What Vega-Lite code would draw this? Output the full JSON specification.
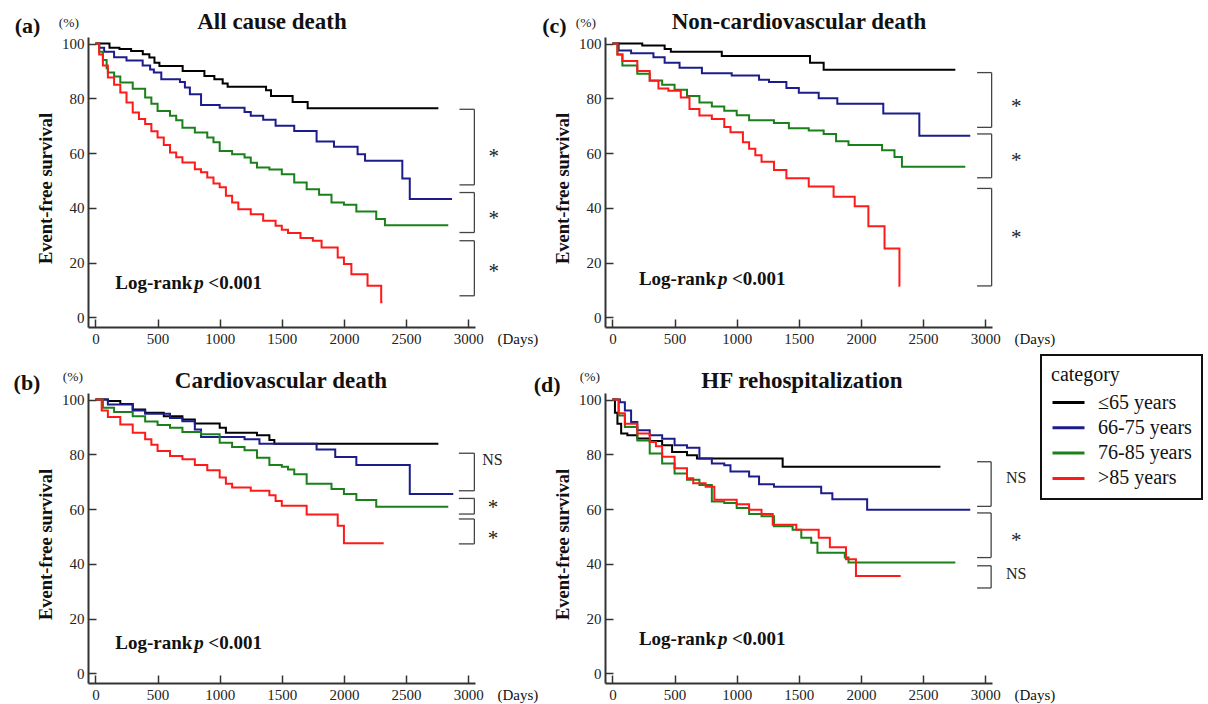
{
 "$schema": "https://vega.github.io/schema/vega-lite/v6.json",
 "background": "white",
 "padding": {"left": 13, "top": 10, "right": 4, "bottom": 4},
 "columns": 2,
 "spacing": {"row": 66, "column": 130},
 "bounds": "flush",
 "datasets": {
  "km": [
   {"panel":"a","group":"≤65 years","day":0,"survival":100},{"panel":"a","group":"≤65 years","day":113,"survival":98.5},{"panel":"a","group":"≤65 years","day":193,"survival":98},{"panel":"a","group":"≤65 years","day":287,"survival":97.3},{"panel":"a","group":"≤65 years","day":381,"survival":96.1},{"panel":"a","group":"≤65 years","day":434,"survival":94.9},{"panel":"a","group":"≤65 years","day":475,"survival":93},{"panel":"a","group":"≤65 years","day":515,"survival":91.8},{"panel":"a","group":"≤65 years","day":702,"survival":90},{"panel":"a","group":"≤65 years","day":877,"survival":88.2},{"panel":"a","group":"≤65 years","day":957,"survival":87},{"panel":"a","group":"≤65 years","day":1024,"survival":85.4},{"panel":"a","group":"≤65 years","day":1064,"survival":84.2},{"panel":"a","group":"≤65 years","day":1373,"survival":83},{"panel":"a","group":"≤65 years","day":1413,"survival":80.9},{"panel":"a","group":"≤65 years","day":1587,"survival":78.7},{"panel":"a","group":"≤65 years","day":1708,"survival":76.4},{"panel":"a","group":"≤65 years","day":2760,"survival":76.4},
   {"panel":"a","group":"66-75 years","day":0,"survival":100},{"panel":"a","group":"66-75 years","day":30,"survival":98.5},{"panel":"a","group":"66-75 years","day":70,"survival":97},{"panel":"a","group":"66-75 years","day":150,"survival":95},{"panel":"a","group":"66-75 years","day":250,"survival":93.8},{"panel":"a","group":"66-75 years","day":380,"survival":92},{"panel":"a","group":"66-75 years","day":440,"survival":90.5},{"panel":"a","group":"66-75 years","day":470,"survival":89.4},{"panel":"a","group":"66-75 years","day":530,"survival":87},{"panel":"a","group":"66-75 years","day":680,"survival":86},{"panel":"a","group":"66-75 years","day":720,"survival":84},{"panel":"a","group":"66-75 years","day":760,"survival":81.5},{"panel":"a","group":"66-75 years","day":850,"survival":77.6},{"panel":"a","group":"66-75 years","day":1000,"survival":76.6},{"panel":"a","group":"66-75 years","day":1200,"survival":75},{"panel":"a","group":"66-75 years","day":1250,"survival":73.6},{"panel":"a","group":"66-75 years","day":1350,"survival":72.2},{"panel":"a","group":"66-75 years","day":1450,"survival":70},{"panel":"a","group":"66-75 years","day":1600,"survival":68.1},{"panel":"a","group":"66-75 years","day":1780,"survival":64.2},{"panel":"a","group":"66-75 years","day":1920,"survival":62.3},{"panel":"a","group":"66-75 years","day":2110,"survival":59.6},{"panel":"a","group":"66-75 years","day":2170,"survival":57.2},{"panel":"a","group":"66-75 years","day":2470,"survival":50.7},{"panel":"a","group":"66-75 years","day":2530,"survival":43.2},{"panel":"a","group":"66-75 years","day":2870,"survival":43.2},
   {"panel":"a","group":"76-85 years","day":0,"survival":100},{"panel":"a","group":"76-85 years","day":30,"survival":97},{"panel":"a","group":"76-85 years","day":60,"survival":94},{"panel":"a","group":"76-85 years","day":90,"survival":91},{"panel":"a","group":"76-85 years","day":100,"survival":89.4},{"panel":"a","group":"76-85 years","day":150,"survival":88},{"panel":"a","group":"76-85 years","day":200,"survival":85.8},{"panel":"a","group":"76-85 years","day":300,"survival":83.5},{"panel":"a","group":"76-85 years","day":400,"survival":80.3},{"panel":"a","group":"76-85 years","day":450,"survival":78},{"panel":"a","group":"76-85 years","day":500,"survival":75.4},{"panel":"a","group":"76-85 years","day":600,"survival":73.6},{"panel":"a","group":"76-85 years","day":650,"survival":72},{"panel":"a","group":"76-85 years","day":700,"survival":69.3},{"panel":"a","group":"76-85 years","day":800,"survival":67.5},{"panel":"a","group":"76-85 years","day":900,"survival":65.7},{"panel":"a","group":"76-85 years","day":950,"survival":64},{"panel":"a","group":"76-85 years","day":1000,"survival":60.8},{"panel":"a","group":"76-85 years","day":1100,"survival":59.6},{"panel":"a","group":"76-85 years","day":1200,"survival":58.4},{"panel":"a","group":"76-85 years","day":1250,"survival":56.5},{"panel":"a","group":"76-85 years","day":1300,"survival":54.7},{"panel":"a","group":"76-85 years","day":1400,"survival":54},{"panel":"a","group":"76-85 years","day":1500,"survival":52.3},{"panel":"a","group":"76-85 years","day":1600,"survival":49.3},{"panel":"a","group":"76-85 years","day":1700,"survival":46.8},{"panel":"a","group":"76-85 years","day":1800,"survival":44.8},{"panel":"a","group":"76-85 years","day":1900,"survival":42},{"panel":"a","group":"76-85 years","day":2000,"survival":41.1},{"panel":"a","group":"76-85 years","day":2100,"survival":38.7},{"panel":"a","group":"76-85 years","day":2260,"survival":35.9},{"panel":"a","group":"76-85 years","day":2330,"survival":33.7},{"panel":"a","group":"76-85 years","day":2840,"survival":33.7},
   {"panel":"a","group":">85 years","day":0,"survival":100},{"panel":"a","group":">85 years","day":30,"survival":96},{"panel":"a","group":">85 years","day":60,"survival":92},{"panel":"a","group":">85 years","day":100,"survival":87.6},{"panel":"a","group":">85 years","day":150,"survival":85},{"panel":"a","group":">85 years","day":200,"survival":82.1},{"panel":"a","group":">85 years","day":250,"survival":78.5},{"panel":"a","group":">85 years","day":300,"survival":74.8},{"panel":"a","group":">85 years","day":350,"survival":72.5},{"panel":"a","group":">85 years","day":400,"survival":70.6},{"panel":"a","group":">85 years","day":450,"survival":68},{"panel":"a","group":">85 years","day":500,"survival":65.7},{"panel":"a","group":">85 years","day":550,"survival":63},{"panel":"a","group":">85 years","day":600,"survival":60.2},{"panel":"a","group":">85 years","day":650,"survival":58.5},{"panel":"a","group":">85 years","day":700,"survival":56.6},{"panel":"a","group":">85 years","day":800,"survival":54.1},{"panel":"a","group":">85 years","day":850,"survival":53},{"panel":"a","group":">85 years","day":900,"survival":51.1},{"panel":"a","group":">85 years","day":950,"survival":48.9},{"panel":"a","group":">85 years","day":1000,"survival":47.5},{"panel":"a","group":">85 years","day":1050,"survival":44.4},{"panel":"a","group":">85 years","day":1100,"survival":42},{"panel":"a","group":">85 years","day":1150,"survival":39.5},{"panel":"a","group":">85 years","day":1250,"survival":37.7},{"panel":"a","group":">85 years","day":1350,"survival":35.3},{"panel":"a","group":">85 years","day":1450,"survival":33.5},{"panel":"a","group":">85 years","day":1500,"survival":32},{"panel":"a","group":">85 years","day":1550,"survival":30.8},{"panel":"a","group":">85 years","day":1650,"survival":29},{"panel":"a","group":">85 years","day":1750,"survival":28},{"panel":"a","group":">85 years","day":1820,"survival":25.5},{"panel":"a","group":">85 years","day":1950,"survival":21.9},{"panel":"a","group":">85 years","day":2000,"survival":19.5},{"panel":"a","group":">85 years","day":2060,"survival":15.8},{"panel":"a","group":">85 years","day":2190,"survival":11.6},{"panel":"a","group":">85 years","day":2300,"survival":5.5},{"panel":"a","group":">85 years","day":2310,"survival":5.5},

   {"panel":"b","group":"≤65 years","day":0,"survival":100},{"panel":"b","group":"≤65 years","day":100,"survival":99.5},{"panel":"b","group":"≤65 years","day":200,"survival":98.4},{"panel":"b","group":"≤65 years","day":300,"survival":96.4},{"panel":"b","group":"≤65 years","day":400,"survival":95.2},{"panel":"b","group":"≤65 years","day":550,"survival":93.9},{"panel":"b","group":"≤65 years","day":700,"survival":92.7},{"panel":"b","group":"≤65 years","day":800,"survival":91.3},{"panel":"b","group":"≤65 years","day":1000,"survival":89.7},{"panel":"b","group":"≤65 years","day":1050,"survival":87.9},{"panel":"b","group":"≤65 years","day":1300,"survival":87},{"panel":"b","group":"≤65 years","day":1400,"survival":85.2},{"panel":"b","group":"≤65 years","day":1440,"survival":83.9},{"panel":"b","group":"≤65 years","day":2760,"survival":83.9},
   {"panel":"b","group":"66-75 years","day":0,"survival":100},{"panel":"b","group":"66-75 years","day":100,"survival":98.2},{"panel":"b","group":"66-75 years","day":300,"survival":96},{"panel":"b","group":"66-75 years","day":400,"survival":94.8},{"panel":"b","group":"66-75 years","day":600,"survival":93.3},{"panel":"b","group":"66-75 years","day":700,"survival":92.1},{"panel":"b","group":"66-75 years","day":800,"survival":89.1},{"panel":"b","group":"66-75 years","day":850,"survival":86.3},{"panel":"b","group":"66-75 years","day":1200,"survival":85.5},{"panel":"b","group":"66-75 years","day":1320,"survival":83.9},{"panel":"b","group":"66-75 years","day":1780,"survival":81.8},{"panel":"b","group":"66-75 years","day":1930,"survival":79},{"panel":"b","group":"66-75 years","day":2100,"survival":76.1},{"panel":"b","group":"66-75 years","day":2530,"survival":65.5},{"panel":"b","group":"66-75 years","day":2880,"survival":65.5},
   {"panel":"b","group":"76-85 years","day":0,"survival":100},{"panel":"b","group":"76-85 years","day":60,"survival":97},{"panel":"b","group":"76-85 years","day":150,"survival":95.5},{"panel":"b","group":"76-85 years","day":300,"survival":93.9},{"panel":"b","group":"76-85 years","day":400,"survival":92},{"panel":"b","group":"76-85 years","day":500,"survival":90.7},{"panel":"b","group":"76-85 years","day":600,"survival":89.7},{"panel":"b","group":"76-85 years","day":700,"survival":88.2},{"panel":"b","group":"76-85 years","day":850,"survival":87.3},{"panel":"b","group":"76-85 years","day":1000,"survival":84.2},{"panel":"b","group":"76-85 years","day":1100,"survival":82.7},{"panel":"b","group":"76-85 years","day":1200,"survival":81.5},{"panel":"b","group":"76-85 years","day":1300,"survival":78.8},{"panel":"b","group":"76-85 years","day":1400,"survival":76.1},{"panel":"b","group":"76-85 years","day":1500,"survival":75.5},{"panel":"b","group":"76-85 years","day":1550,"survival":74.5},{"panel":"b","group":"76-85 years","day":1600,"survival":72.7},{"panel":"b","group":"76-85 years","day":1700,"survival":69.3},{"panel":"b","group":"76-85 years","day":1900,"survival":67.3},{"panel":"b","group":"76-85 years","day":2000,"survival":65.5},{"panel":"b","group":"76-85 years","day":2100,"survival":63.3},{"panel":"b","group":"76-85 years","day":2260,"survival":60.9},{"panel":"b","group":"76-85 years","day":2840,"survival":60.9},
   {"panel":"b","group":">85 years","day":0,"survival":100},{"panel":"b","group":">85 years","day":50,"survival":96},{"panel":"b","group":">85 years","day":100,"survival":93.6},{"panel":"b","group":">85 years","day":200,"survival":90.9},{"panel":"b","group":">85 years","day":300,"survival":87.9},{"panel":"b","group":">85 years","day":400,"survival":85.5},{"panel":"b","group":">85 years","day":450,"survival":83.5},{"panel":"b","group":">85 years","day":500,"survival":81.2},{"panel":"b","group":">85 years","day":600,"survival":79.4},{"panel":"b","group":">85 years","day":700,"survival":78.2},{"panel":"b","group":">85 years","day":800,"survival":76.1},{"panel":"b","group":">85 years","day":900,"survival":74.2},{"panel":"b","group":">85 years","day":1000,"survival":71.5},{"panel":"b","group":">85 years","day":1050,"survival":69.3},{"panel":"b","group":">85 years","day":1100,"survival":67.9},{"panel":"b","group":">85 years","day":1250,"survival":66.7},{"panel":"b","group":">85 years","day":1400,"survival":65.1},{"panel":"b","group":">85 years","day":1450,"survival":63},{"panel":"b","group":">85 years","day":1500,"survival":61.2},{"panel":"b","group":">85 years","day":1700,"survival":58},{"panel":"b","group":">85 years","day":1950,"survival":53.9},{"panel":"b","group":">85 years","day":2000,"survival":47.5},{"panel":"b","group":">85 years","day":2320,"survival":47.5},

   {"panel":"c","group":"≤65 years","day":0,"survival":100},{"panel":"c","group":"≤65 years","day":240,"survival":99.3},{"panel":"c","group":"≤65 years","day":420,"survival":98},{"panel":"c","group":"≤65 years","day":470,"survival":97},{"panel":"c","group":"≤65 years","day":880,"survival":95.5},{"panel":"c","group":"≤65 years","day":1590,"survival":93},{"panel":"c","group":"≤65 years","day":1700,"survival":90.4},{"panel":"c","group":"≤65 years","day":2760,"survival":90.4},
   {"panel":"c","group":"66-75 years","day":0,"survival":100},{"panel":"c","group":"66-75 years","day":50,"survival":97.5},{"panel":"c","group":"66-75 years","day":150,"survival":96.5},{"panel":"c","group":"66-75 years","day":330,"survival":95},{"panel":"c","group":"66-75 years","day":420,"survival":93},{"panel":"c","group":"66-75 years","day":540,"survival":91.2},{"panel":"c","group":"66-75 years","day":720,"survival":89.2},{"panel":"c","group":"66-75 years","day":960,"survival":88.3},{"panel":"c","group":"66-75 years","day":1180,"survival":86.8},{"panel":"c","group":"66-75 years","day":1260,"survival":86},{"panel":"c","group":"66-75 years","day":1400,"survival":83.8},{"panel":"c","group":"66-75 years","day":1500,"survival":82},{"panel":"c","group":"66-75 years","day":1660,"survival":80},{"panel":"c","group":"66-75 years","day":1810,"survival":78},{"panel":"c","group":"66-75 years","day":2180,"survival":74.5},{"panel":"c","group":"66-75 years","day":2470,"survival":66.3},{"panel":"c","group":"66-75 years","day":2880,"survival":66.3},
   {"panel":"c","group":"76-85 years","day":0,"survival":100},{"panel":"c","group":"76-85 years","day":40,"survival":96},{"panel":"c","group":"76-85 years","day":80,"survival":92},{"panel":"c","group":"76-85 years","day":200,"survival":89},{"panel":"c","group":"76-85 years","day":300,"survival":86.5},{"panel":"c","group":"76-85 years","day":400,"survival":85},{"panel":"c","group":"76-85 years","day":500,"survival":83.1},{"panel":"c","group":"76-85 years","day":600,"survival":80.9},{"panel":"c","group":"76-85 years","day":700,"survival":78.5},{"panel":"c","group":"76-85 years","day":800,"survival":77},{"panel":"c","group":"76-85 years","day":900,"survival":75.5},{"panel":"c","group":"76-85 years","day":1000,"survival":73.8},{"panel":"c","group":"76-85 years","day":1100,"survival":72},{"panel":"c","group":"76-85 years","day":1300,"survival":71},{"panel":"c","group":"76-85 years","day":1420,"survival":69.1},{"panel":"c","group":"76-85 years","day":1580,"survival":68.3},{"panel":"c","group":"76-85 years","day":1700,"survival":67},{"panel":"c","group":"76-85 years","day":1800,"survival":64.3},{"panel":"c","group":"76-85 years","day":1900,"survival":63},{"panel":"c","group":"76-85 years","day":2170,"survival":61},{"panel":"c","group":"76-85 years","day":2270,"survival":58.6},{"panel":"c","group":"76-85 years","day":2330,"survival":55},{"panel":"c","group":"76-85 years","day":2840,"survival":55},
   {"panel":"c","group":">85 years","day":0,"survival":100},{"panel":"c","group":">85 years","day":40,"survival":96},{"panel":"c","group":">85 years","day":80,"survival":93.6},{"panel":"c","group":">85 years","day":200,"survival":90},{"panel":"c","group":">85 years","day":300,"survival":86.4},{"panel":"c","group":">85 years","day":370,"survival":83.6},{"panel":"c","group":">85 years","day":450,"survival":82.8},{"panel":"c","group":">85 years","day":550,"survival":80.3},{"panel":"c","group":">85 years","day":620,"survival":76.1},{"panel":"c","group":">85 years","day":700,"survival":73.7},{"panel":"c","group":">85 years","day":800,"survival":72.5},{"panel":"c","group":">85 years","day":900,"survival":69.5},{"panel":"c","group":">85 years","day":950,"survival":67.6},{"panel":"c","group":">85 years","day":1050,"survival":64},{"panel":"c","group":">85 years","day":1100,"survival":61.6},{"panel":"c","group":">85 years","day":1150,"survival":59.2},{"panel":"c","group":">85 years","day":1200,"survival":56.8},{"panel":"c","group":">85 years","day":1300,"survival":53.8},{"panel":"c","group":">85 years","day":1400,"survival":50.8},{"panel":"c","group":">85 years","day":1580,"survival":47.8},{"panel":"c","group":">85 years","day":1780,"survival":44.1},{"panel":"c","group":">85 years","day":1950,"survival":40.6},{"panel":"c","group":">85 years","day":2060,"survival":33.3},{"panel":"c","group":">85 years","day":2190,"survival":25.2},{"panel":"c","group":">85 years","day":2310,"survival":11.5},{"panel":"c","group":">85 years","day":2312,"survival":11.5},

   {"panel":"d","group":"≤65 years","day":0,"survival":100},{"panel":"d","group":"≤65 years","day":20,"survival":95.2},{"panel":"d","group":"≤65 years","day":40,"survival":91.2},{"panel":"d","group":"≤65 years","day":70,"survival":87.6},{"panel":"d","group":"≤65 years","day":120,"survival":87},{"panel":"d","group":"≤65 years","day":200,"survival":85.8},{"panel":"d","group":"≤65 years","day":300,"survival":84.9},{"panel":"d","group":"≤65 years","day":400,"survival":83.3},{"panel":"d","group":"≤65 years","day":480,"survival":80.9},{"panel":"d","group":"≤65 years","day":600,"survival":79.7},{"panel":"d","group":"≤65 years","day":680,"survival":78.5},{"panel":"d","group":"≤65 years","day":1370,"survival":75.5},{"panel":"d","group":"≤65 years","day":2640,"survival":75.5},
   {"panel":"d","group":"66-75 years","day":0,"survival":100},{"panel":"d","group":"66-75 years","day":60,"survival":99},{"panel":"d","group":"66-75 years","day":100,"survival":96},{"panel":"d","group":"66-75 years","day":150,"survival":91.8},{"panel":"d","group":"66-75 years","day":200,"survival":88.8},{"panel":"d","group":"66-75 years","day":300,"survival":87},{"panel":"d","group":"66-75 years","day":400,"survival":85.7},{"panel":"d","group":"66-75 years","day":500,"survival":83.3},{"panel":"d","group":"66-75 years","day":600,"survival":82.4},{"panel":"d","group":"66-75 years","day":700,"survival":78.5},{"panel":"d","group":"66-75 years","day":800,"survival":76.7},{"panel":"d","group":"66-75 years","day":900,"survival":76},{"panel":"d","group":"66-75 years","day":950,"survival":73.7},{"panel":"d","group":"66-75 years","day":1100,"survival":71.9},{"panel":"d","group":"66-75 years","day":1180,"survival":69.1},{"panel":"d","group":"66-75 years","day":1300,"survival":68.2},{"panel":"d","group":"66-75 years","day":1680,"survival":65.8},{"panel":"d","group":"66-75 years","day":1770,"survival":63.6},{"panel":"d","group":"66-75 years","day":2050,"survival":59.8},{"panel":"d","group":"66-75 years","day":2880,"survival":59.8},
   {"panel":"d","group":"76-85 years","day":0,"survival":100},{"panel":"d","group":"76-85 years","day":50,"survival":94.2},{"panel":"d","group":"76-85 years","day":100,"survival":90},{"panel":"d","group":"76-85 years","day":200,"survival":85.1},{"panel":"d","group":"76-85 years","day":300,"survival":80.3},{"panel":"d","group":"76-85 years","day":400,"survival":76.7},{"panel":"d","group":"76-85 years","day":500,"survival":73},{"panel":"d","group":"76-85 years","day":600,"survival":70.7},{"panel":"d","group":"76-85 years","day":700,"survival":68.8},{"panel":"d","group":"76-85 years","day":800,"survival":62.8},{"panel":"d","group":"76-85 years","day":900,"survival":62.2},{"panel":"d","group":"76-85 years","day":1000,"survival":60.4},{"panel":"d","group":"76-85 years","day":1100,"survival":58.2},{"panel":"d","group":"76-85 years","day":1200,"survival":57.4},{"panel":"d","group":"76-85 years","day":1300,"survival":53.7},{"panel":"d","group":"76-85 years","day":1450,"survival":52.5},{"panel":"d","group":"76-85 years","day":1520,"survival":49.5},{"panel":"d","group":"76-85 years","day":1600,"survival":47.7},{"panel":"d","group":"76-85 years","day":1650,"survival":44.1},{"panel":"d","group":"76-85 years","day":1870,"survival":42.3},{"panel":"d","group":"76-85 years","day":1900,"survival":40.5},{"panel":"d","group":"76-85 years","day":2760,"survival":40.5},
   {"panel":"d","group":">85 years","day":0,"survival":100},{"panel":"d","group":">85 years","day":50,"survival":95},{"panel":"d","group":">85 years","day":100,"survival":91.2},{"panel":"d","group":">85 years","day":200,"survival":87.6},{"panel":"d","group":">85 years","day":300,"survival":84.5},{"panel":"d","group":">85 years","day":350,"survival":83},{"panel":"d","group":">85 years","day":400,"survival":79.1},{"panel":"d","group":">85 years","day":500,"survival":74.9},{"panel":"d","group":">85 years","day":600,"survival":71.3},{"panel":"d","group":">85 years","day":650,"survival":69.4},{"panel":"d","group":">85 years","day":750,"survival":68.2},{"panel":"d","group":">85 years","day":820,"survival":63.4},{"panel":"d","group":">85 years","day":1000,"survival":61.8},{"panel":"d","group":">85 years","day":1100,"survival":59.8},{"panel":"d","group":">85 years","day":1200,"survival":58.2},{"panel":"d","group":">85 years","day":1290,"survival":54.3},{"panel":"d","group":">85 years","day":1480,"survival":52.5},{"panel":"d","group":">85 years","day":1660,"survival":49.5},{"panel":"d","group":">85 years","day":1750,"survival":46.1},{"panel":"d","group":">85 years","day":1880,"survival":41.7},{"panel":"d","group":">85 years","day":1960,"survival":35.6},{"panel":"d","group":">85 years","day":2320,"survival":35.6}
  ],
  "br": [
   {"panel":"a","top":76,"bottom":48.4,"label":"*","labelY":60.2},{"panel":"a","top":45.6,"bottom":31,"label":"*","labelY":37.7},{"panel":"a","top":28,"bottom":7.9,"label":"*","labelY":18.2},
   {"panel":"b","top":80.4,"bottom":66.7,"label":"NS","labelY":77.8},{"panel":"b","top":63.9,"bottom":58.2,"label":"*","labelY":62.1},{"panel":"b","top":56.4,"bottom":47.3,"label":"*","labelY":50.9},
   {"panel":"c","top":89.4,"bottom":69.4,"label":"*","labelY":78.5},{"panel":"c","top":67,"bottom":51,"label":"*","labelY":58.6},{"panel":"c","top":47.1,"bottom":11.5,"label":"*","labelY":30.8},
   {"panel":"d","top":77.3,"bottom":61,"label":"NS","labelY":71.3},{"panel":"d","top":58.6,"bottom":42.3,"label":"*","labelY":50.1},{"panel":"d","top":39.3,"bottom":31.2,"label":"NS","labelY":36.2}
  ]
 },
 "concat": [
  {
   "width": 387, "height": 290,
   "layer": [
    {"data": {"name": "km"}, "transform": [{"filter": "datum.panel === 'a'"}],
     "mark": {"type": "line", "interpolate": "step-after", "strokeWidth": 2},
     "encoding": {
      "x": {"field": "day", "type": "quantitative", "scale": {"domain": [-60, 3055], "nice": false, "zero": false}, "axis": {"values": [0, 500, 1000, 1500, 2000, 2500, 3000], "format": "d", "title": "(Days)"}},
      "y": {"field": "survival", "type": "quantitative", "scale": {"domain": [-3.5, 102.4], "nice": false, "zero": false}, "axis": {"values": [0, 10, 20, 30, 40, 50, 60, 70, 80, 90, 100], "labelExpr": "datum.value % 20 === 0 ? datum.label : ''", "title": "Event-free survival"}},
      "color": {"field": "group", "type": "nominal", "scale": {"domain": ["≤65 years", "66-75 years", "76-85 years", ">85 years"], "range": ["#000000", "#1c1c8c", "#1a801a", "#ff1a1a"]}, "legend": {"title": "category", "orient": "none", "legendX": 953, "legendY": 318, "symbolType": "M-1,0H2.2", "symbolSize": 400, "symbolStrokeWidth": 3}}
     }},
    {"data": {"name": "br"}, "transform": [{"filter": "datum.panel === 'a'"}],
     "layer": [
      {"mark": {"type": "rule", "strokeWidth": 1.3, "color": "#444"}, "encoding": {"x": {"datum": 2930}, "x2": {"datum": 3050}, "y": {"field": "top", "type": "quantitative"}}},
      {"mark": {"type": "rule", "strokeWidth": 1.3, "color": "#444"}, "encoding": {"x": {"datum": 2930}, "x2": {"datum": 3050}, "y": {"field": "bottom", "type": "quantitative"}}},
      {"mark": {"type": "rule", "strokeWidth": 1.3, "color": "#444"}, "encoding": {"x": {"datum": 3050}, "y": {"field": "top", "type": "quantitative"}, "y2": {"field": "bottom"}}},
      {"transform": [{"filter": "datum.label === '*'"}], "mark": {"type": "text", "fontSize": 21, "dy": 10.5, "baseline": "alphabetic", "color": "#222"}, "encoding": {"x": {"datum": 3205}, "y": {"field": "labelY", "type": "quantitative"}, "text": {"field": "label"}}},
      {"transform": [{"filter": "datum.label === 'NS'"}], "mark": {"type": "text", "fontSize": 16, "baseline": "middle", "color": "#222"}, "encoding": {"x": {"datum": 3205}, "y": {"field": "labelY", "type": "quantitative"}, "text": {"field": "label"}}}
     ]},
    {"data": {"values": [{}]},
     "layer": [
      {"mark": {"type": "text", "text": "All cause death", "fontSize": 23, "fontWeight": "bold", "baseline": "middle", "color": "#111"}, "encoding": {"x": {"datum": 1421}, "y": {"datum": 108}}},
      {"mark": {"type": "text", "text": "(a)", "fontSize": 22, "fontWeight": "bold", "baseline": "middle", "color": "#111"}, "encoding": {"x": {"datum": -547}, "y": {"datum": 106.4}}},
      {"mark": {"type": "text", "text": "(%)", "fontSize": 13.5, "baseline": "middle", "color": "#222"}, "encoding": {"x": {"datum": -213}, "y": {"datum": 107.5}}},
      {"mark": {"type": "text", "text": "Log-rank", "fontSize": 19, "fontWeight": "bold", "align": "left", "baseline": "middle", "color": "#111"}, "encoding": {"x": {"datum": 160}, "y": {"datum": 12.7}}},
      {"mark": {"type": "text", "text": "p", "fontSize": 19, "fontWeight": "bold", "fontStyle": "italic", "align": "left", "baseline": "middle", "dx": 79, "color": "#111"}, "encoding": {"x": {"datum": 160}, "y": {"datum": 12.7}}},
      {"mark": {"type": "text", "text": "<0.001", "fontSize": 19, "fontWeight": "bold", "align": "left", "baseline": "middle", "dx": 93, "color": "#111"}, "encoding": {"x": {"datum": 160}, "y": {"datum": 12.7}}}
     ]}
   ]
  },
  {
   "width": 387, "height": 290,
   "layer": [
    {"data": {"name": "km"}, "transform": [{"filter": "datum.panel === 'c'"}],
     "mark": {"type": "line", "interpolate": "step-after", "strokeWidth": 2},
     "encoding": {
      "x": {"field": "day", "type": "quantitative", "scale": {"domain": [-60, 3055], "nice": false, "zero": false}, "axis": {"values": [0, 500, 1000, 1500, 2000, 2500, 3000], "format": "d", "title": "(Days)"}},
      "y": {"field": "survival", "type": "quantitative", "scale": {"domain": [-3.5, 102.4], "nice": false, "zero": false}, "axis": {"values": [0, 10, 20, 30, 40, 50, 60, 70, 80, 90, 100], "labelExpr": "datum.value % 20 === 0 ? datum.label : ''", "title": "Event-free survival"}},
      "color": {"field": "group", "type": "nominal", "scale": {"domain": ["≤65 years", "66-75 years", "76-85 years", ">85 years"], "range": ["#000000", "#1c1c8c", "#1a801a", "#ff1a1a"]}, "legend": {"title": "category", "orient": "none", "legendX": 953, "legendY": 318, "symbolType": "M-1,0H2.2", "symbolSize": 400, "symbolStrokeWidth": 3}}
     }},
    {"data": {"name": "br"}, "transform": [{"filter": "datum.panel === 'c'"}],
     "layer": [
      {"mark": {"type": "rule", "strokeWidth": 1.3, "color": "#444"}, "encoding": {"x": {"datum": 2935}, "x2": {"datum": 3052}, "y": {"field": "top", "type": "quantitative"}}},
      {"mark": {"type": "rule", "strokeWidth": 1.3, "color": "#444"}, "encoding": {"x": {"datum": 2935}, "x2": {"datum": 3052}, "y": {"field": "bottom", "type": "quantitative"}}},
      {"mark": {"type": "rule", "strokeWidth": 1.3, "color": "#444"}, "encoding": {"x": {"datum": 3052}, "y": {"field": "top", "type": "quantitative"}, "y2": {"field": "bottom"}}},
      {"transform": [{"filter": "datum.label === '*'"}], "mark": {"type": "text", "fontSize": 21, "dy": 10.5, "baseline": "alphabetic", "color": "#222"}, "encoding": {"x": {"datum": 3250}, "y": {"field": "labelY", "type": "quantitative"}, "text": {"field": "label"}}},
      {"transform": [{"filter": "datum.label === 'NS'"}], "mark": {"type": "text", "fontSize": 16, "baseline": "middle", "color": "#222"}, "encoding": {"x": {"datum": 3250}, "y": {"field": "labelY", "type": "quantitative"}, "text": {"field": "label"}}}
     ]},
    {"data": {"values": [{}]},
     "layer": [
      {"mark": {"type": "text", "text": "Non-cardiovascular death", "fontSize": 23, "fontWeight": "bold", "baseline": "middle", "color": "#111"}, "encoding": {"x": {"datum": 1501}, "y": {"datum": 108}}},
      {"mark": {"type": "text", "text": "(c)", "fontSize": 22, "fontWeight": "bold", "baseline": "middle", "color": "#111"}, "encoding": {"x": {"datum": -467}, "y": {"datum": 106.4}}},
      {"mark": {"type": "text", "text": "(%)", "fontSize": 13.5, "baseline": "middle", "color": "#222"}, "encoding": {"x": {"datum": -214}, "y": {"datum": 107.6}}},
      {"mark": {"type": "text", "text": "Log-rank", "fontSize": 19, "fontWeight": "bold", "align": "left", "baseline": "middle", "color": "#111"}, "encoding": {"x": {"datum": 213}, "y": {"datum": 13.9}}},
      {"mark": {"type": "text", "text": "p", "fontSize": 19, "fontWeight": "bold", "fontStyle": "italic", "align": "left", "baseline": "middle", "dx": 79, "color": "#111"}, "encoding": {"x": {"datum": 213}, "y": {"datum": 13.9}}},
      {"mark": {"type": "text", "text": "<0.001", "fontSize": 19, "fontWeight": "bold", "align": "left", "baseline": "middle", "dx": 93, "color": "#111"}, "encoding": {"x": {"datum": 213}, "y": {"datum": 13.9}}}
     ]}
   ]
  },
  {
   "width": 387, "height": 290,
   "layer": [
    {"data": {"name": "km"}, "transform": [{"filter": "datum.panel === 'b'"}],
     "mark": {"type": "line", "interpolate": "step-after", "strokeWidth": 2},
     "encoding": {
      "x": {"field": "day", "type": "quantitative", "scale": {"domain": [-60, 3055], "nice": false, "zero": false}, "axis": {"values": [0, 500, 1000, 1500, 2000, 2500, 3000], "format": "d", "title": "(Days)"}},
      "y": {"field": "survival", "type": "quantitative", "scale": {"domain": [-3.5, 102.4], "nice": false, "zero": false}, "axis": {"values": [0, 10, 20, 30, 40, 50, 60, 70, 80, 90, 100], "labelExpr": "datum.value % 20 === 0 ? datum.label : ''", "title": "Event-free survival"}},
      "color": {"field": "group", "type": "nominal", "scale": {"domain": ["≤65 years", "66-75 years", "76-85 years", ">85 years"], "range": ["#000000", "#1c1c8c", "#1a801a", "#ff1a1a"]}, "legend": {"title": "category", "orient": "none", "legendX": 953, "legendY": 318, "symbolType": "M-1,0H2.2", "symbolSize": 400, "symbolStrokeWidth": 3}}
     }},
    {"data": {"name": "br"}, "transform": [{"filter": "datum.panel === 'b'"}],
     "layer": [
      {"mark": {"type": "rule", "strokeWidth": 1.3, "color": "#444"}, "encoding": {"x": {"datum": 2925}, "x2": {"datum": 3050}, "y": {"field": "top", "type": "quantitative"}}},
      {"mark": {"type": "rule", "strokeWidth": 1.3, "color": "#444"}, "encoding": {"x": {"datum": 2925}, "x2": {"datum": 3050}, "y": {"field": "bottom", "type": "quantitative"}}},
      {"mark": {"type": "rule", "strokeWidth": 1.3, "color": "#444"}, "encoding": {"x": {"datum": 3050}, "y": {"field": "top", "type": "quantitative"}, "y2": {"field": "bottom"}}},
      {"transform": [{"filter": "datum.label === '*'"}], "mark": {"type": "text", "fontSize": 21, "dy": 10.5, "baseline": "alphabetic", "color": "#222"}, "encoding": {"x": {"datum": 3200}, "y": {"field": "labelY", "type": "quantitative"}, "text": {"field": "label"}}},
      {"transform": [{"filter": "datum.label === 'NS'"}], "mark": {"type": "text", "fontSize": 16, "baseline": "middle", "color": "#222"}, "encoding": {"x": {"datum": 3195}, "y": {"field": "labelY", "type": "quantitative"}, "text": {"field": "label"}}}
     ]},
    {"data": {"values": [{}]},
     "layer": [
      {"mark": {"type": "text", "text": "Cardiovascular death", "fontSize": 23, "fontWeight": "bold", "baseline": "middle", "color": "#111"}, "encoding": {"x": {"datum": 1493}, "y": {"datum": 106.6}}},
      {"mark": {"type": "text", "text": "(b)", "fontSize": 22, "fontWeight": "bold", "baseline": "middle", "color": "#111"}, "encoding": {"x": {"datum": -551}, "y": {"datum": 106.2}}},
      {"mark": {"type": "text", "text": "(%)", "fontSize": 13.5, "baseline": "middle", "color": "#222"}, "encoding": {"x": {"datum": -181}, "y": {"datum": 108.2}}},
      {"mark": {"type": "text", "text": "Log-rank", "fontSize": 19, "fontWeight": "bold", "align": "left", "baseline": "middle", "color": "#111"}, "encoding": {"x": {"datum": 160}, "y": {"datum": 11.2}}},
      {"mark": {"type": "text", "text": "p", "fontSize": 19, "fontWeight": "bold", "fontStyle": "italic", "align": "left", "baseline": "middle", "dx": 79, "color": "#111"}, "encoding": {"x": {"datum": 160}, "y": {"datum": 11.2}}},
      {"mark": {"type": "text", "text": "<0.001", "fontSize": 19, "fontWeight": "bold", "align": "left", "baseline": "middle", "dx": 93, "color": "#111"}, "encoding": {"x": {"datum": 160}, "y": {"datum": 11.2}}}
     ]}
   ]
  },
  {
   "width": 387, "height": 290,
   "layer": [
    {"data": {"name": "km"}, "transform": [{"filter": "datum.panel === 'd'"}],
     "mark": {"type": "line", "interpolate": "step-after", "strokeWidth": 2},
     "encoding": {
      "x": {"field": "day", "type": "quantitative", "scale": {"domain": [-60, 3055], "nice": false, "zero": false}, "axis": {"values": [0, 500, 1000, 1500, 2000, 2500, 3000], "format": "d", "title": "(Days)"}},
      "y": {"field": "survival", "type": "quantitative", "scale": {"domain": [-3.5, 102.4], "nice": false, "zero": false}, "axis": {"values": [0, 10, 20, 30, 40, 50, 60, 70, 80, 90, 100], "labelExpr": "datum.value % 20 === 0 ? datum.label : ''", "title": "Event-free survival"}},
      "color": {"field": "group", "type": "nominal", "scale": {"domain": ["≤65 years", "66-75 years", "76-85 years", ">85 years"], "range": ["#000000", "#1c1c8c", "#1a801a", "#ff1a1a"]}, "legend": {"title": "category", "orient": "none", "legendX": 953, "legendY": 318, "symbolType": "M-1,0H2.2", "symbolSize": 400, "symbolStrokeWidth": 3}}
     }},
    {"data": {"name": "br"}, "transform": [{"filter": "datum.panel === 'd'"}],
     "layer": [
      {"mark": {"type": "rule", "strokeWidth": 1.3, "color": "#444"}, "encoding": {"x": {"datum": 2935}, "x2": {"datum": 3048}, "y": {"field": "top", "type": "quantitative"}}},
      {"mark": {"type": "rule", "strokeWidth": 1.3, "color": "#444"}, "encoding": {"x": {"datum": 2935}, "x2": {"datum": 3048}, "y": {"field": "bottom", "type": "quantitative"}}},
      {"mark": {"type": "rule", "strokeWidth": 1.3, "color": "#444"}, "encoding": {"x": {"datum": 3048}, "y": {"field": "top", "type": "quantitative"}, "y2": {"field": "bottom"}}},
      {"transform": [{"filter": "datum.label === '*'"}], "mark": {"type": "text", "fontSize": 21, "dy": 10.5, "baseline": "alphabetic", "color": "#222"}, "encoding": {"x": {"datum": 3250}, "y": {"field": "labelY", "type": "quantitative"}, "text": {"field": "label"}}},
      {"transform": [{"filter": "datum.label === 'NS'"}], "mark": {"type": "text", "fontSize": 16, "baseline": "middle", "color": "#222"}, "encoding": {"x": {"datum": 3250}, "y": {"field": "labelY", "type": "quantitative"}, "text": {"field": "label"}}}
     ]},
    {"data": {"values": [{}]},
     "layer": [
      {"mark": {"type": "text", "text": "HF rehospitalization", "fontSize": 23, "fontWeight": "bold", "baseline": "middle", "color": "#111"}, "encoding": {"x": {"datum": 1525}, "y": {"datum": 106.8}}},
      {"mark": {"type": "text", "text": "(d)", "fontSize": 22, "fontWeight": "bold", "baseline": "middle", "color": "#111"}, "encoding": {"x": {"datum": -526}, "y": {"datum": 105.3}}},
      {"mark": {"type": "text", "text": "(%)", "fontSize": 13.5, "baseline": "middle", "color": "#222"}, "encoding": {"x": {"datum": -182}, "y": {"datum": 108.2}}},
      {"mark": {"type": "text", "text": "Log-rank", "fontSize": 19, "fontWeight": "bold", "align": "left", "baseline": "middle", "color": "#111"}, "encoding": {"x": {"datum": 213}, "y": {"datum": 12.4}}},
      {"mark": {"type": "text", "text": "p", "fontSize": 19, "fontWeight": "bold", "fontStyle": "italic", "align": "left", "baseline": "middle", "dx": 79, "color": "#111"}, "encoding": {"x": {"datum": 213}, "y": {"datum": 12.4}}},
      {"mark": {"type": "text", "text": "<0.001", "fontSize": 19, "fontWeight": "bold", "align": "left", "baseline": "middle", "dx": 93, "color": "#111"}, "encoding": {"x": {"datum": 213}, "y": {"datum": 12.4}}}
     ]}
   ]
  }
 ],
 "config": {
  "view": {"stroke": null},
  "font": "Liberation Serif",
  "text": {"font": "Liberation Serif"},
  "axis": {"grid": false, "domainColor": "#333", "domainWidth": 2, "tickColor": "#333", "tickWidth": 1.5, "tickSize": -8, "labelFont": "Liberation Serif", "labelFontSize": 15, "labelColor": "#222", "labelPadding": 12, "titleFont": "Liberation Serif", "titleColor": "#111", "labelOverlap": false},
  "axisX": {"titleFontWeight": "normal", "titleFontSize": 15, "titleAnchor": "start", "titleAlign": "left", "titleBaseline": "top", "titleX": 409, "titleY": 4, "labelFlush": false},
  "axisY": {"titleFontWeight": "bold", "titleFontSize": 18.5, "titleAngle": 270, "titleAlign": "center", "titleBaseline": "middle", "titleX": -43, "titleY": 151},
  "legend": {"strokeColor": "#111", "strokeWidth": 2, "fillColor": "white", "padding": 10, "titleFont": "Liberation Serif", "titleFontSize": 20, "titleFontWeight": "normal", "titleColor": "#111", "titlePadding": 6, "labelFont": "Liberation Serif", "labelFontSize": 20, "labelColor": "#111", "labelOffset": 24, "rowPadding": 3.3, "labelLimit": 300}
 }
}
